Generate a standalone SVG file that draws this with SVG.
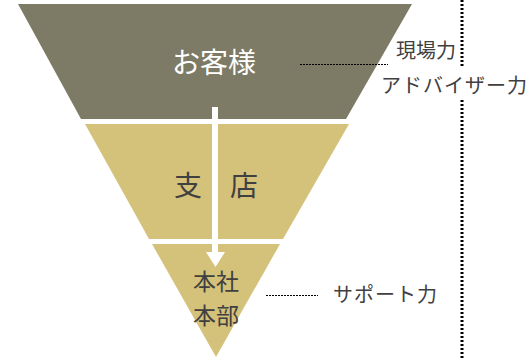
<svg xmlns="http://www.w3.org/2000/svg" width="531" height="358" viewBox="0 0 531 358">
<style>
text{font-family:"Noto Sans CJK JP","Noto Sans",sans-serif;}
.lbl{font-size:20px;fill:#404040;}
.in{font-size:26px;fill:#404040;text-anchor:middle;}
.lead{stroke:#000;stroke-width:1;stroke-dasharray:2 1;fill:none;}
</style>
<rect width="531" height="358" fill="#fff"/>
<g id="top">
<polygon points="18,4 412,4 346,119 81,119" fill="#7d7a66"/>
<text x="214" y="73" font-size="28" fill="#fff" text-anchor="middle" style="font-family:'Noto Sans CJK JP',sans-serif">お客様</text>
</g>
<g id="middle">
<polygon points="85,124 349,124 283,239 149,239" fill="#d4c17a"/>
<text class="in" x="216" y="196" style="font-size:28px">支　店</text>
</g>
<g id="bottom">
<polygon points="152,244 280,244 216,357" fill="#d4c17a"/>
<text class="in" x="216" y="290" style="font-size:23px">本社</text>
<text class="in" x="216" y="324" style="font-size:23px">本部</text>
</g>
<g id="connectors">
<line x1="215" y1="107" x2="215" y2="252" stroke="#fff" stroke-width="6"/>
<polygon points="206,252 225,252 215.5,267" fill="#fff"/>
<line class="lead" x1="300" y1="64.5" x2="388" y2="64.5"/>
<line class="lead" x1="266" y1="295.5" x2="318" y2="295.5"/>
<line x1="462" y1="0" x2="462" y2="66" stroke="#000" stroke-width="3" stroke-dasharray="2 2"/>
<line x1="462" y1="100" x2="462" y2="358" stroke="#000" stroke-width="3" stroke-dasharray="2 2"/>
</g>
<g id="labels">
<text class="lbl" x="396" y="58">現場力</text>
<text class="lbl" x="381" y="93" letter-spacing="1">アドバイザー力</text>
<text class="lbl" x="333" y="302" letter-spacing="1">サポート力</text>
</g>
</svg>
